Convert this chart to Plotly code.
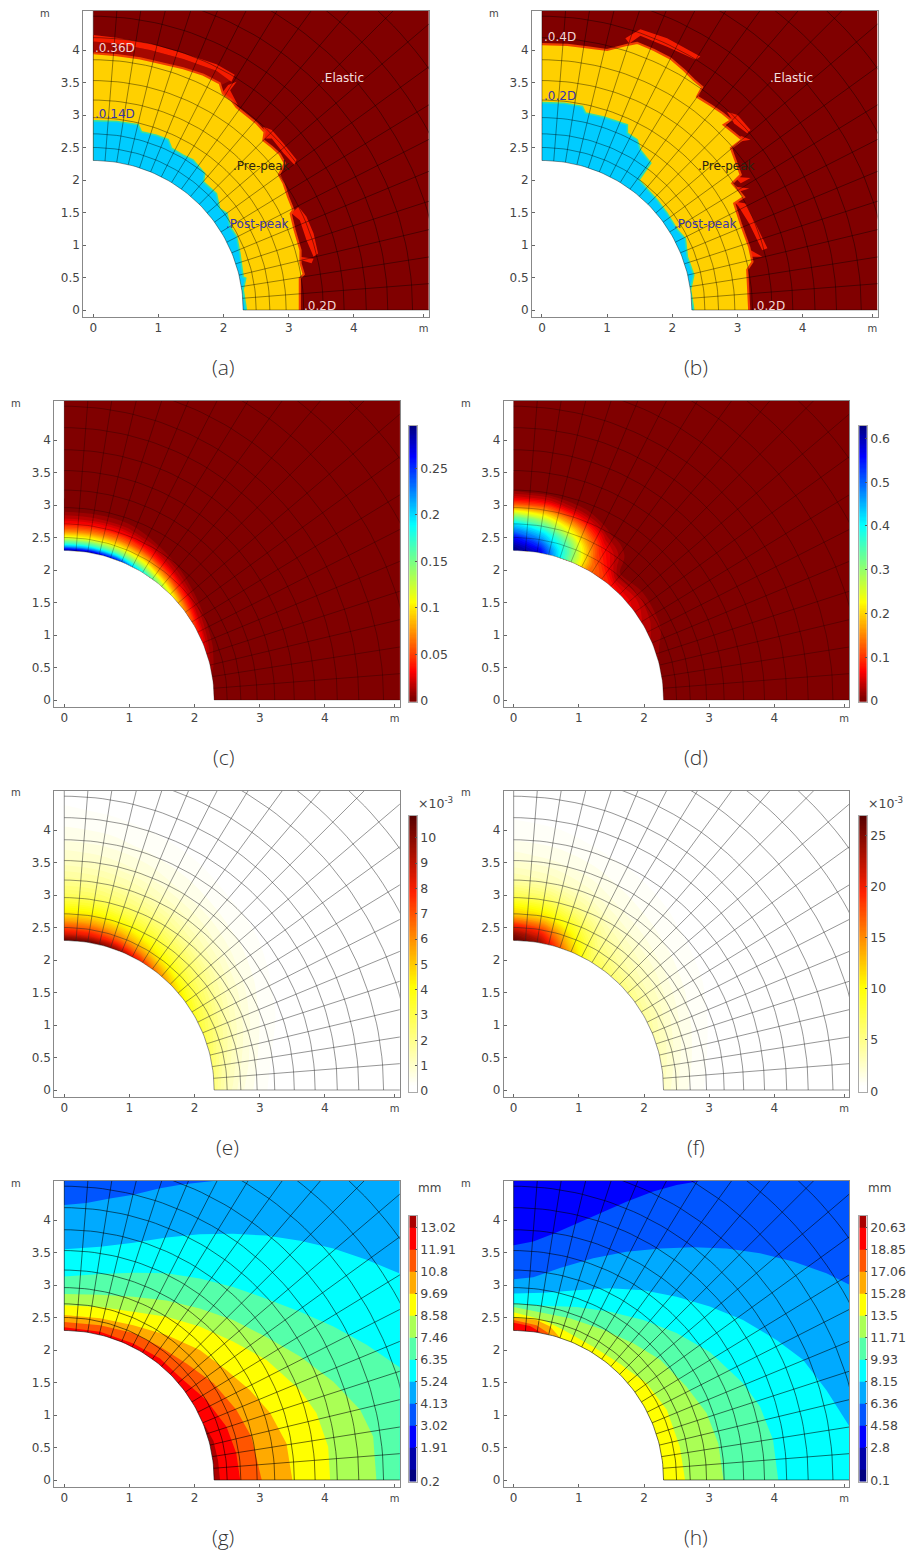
import numpy as np
import plotly.graph_objects as go

# ---------- data (all in metres / field units) ----------
HOLE_RADIUS = 2.3
MESH_RINGS = [2.3, 2.5, 2.71, 2.96, 3.23, 3.53, 3.85, 4.19, 4.52, 4.9, 5.35, 5.83, 6.35]
MESH_RAYS = [0, 4.5, 9, 13.5, 18, 22.5, 27, 31.5, 36, 40.5, 45, 49.5, 54, 58.5, 63, 67.5, 72, 76.5, 81, 85.5, 90]

# panel (a) zones
A_YELLOW_X = [0, .36, .72, 1.07, 1.38, 1.69, 1.94, 1.99, 2.12, 2.2, 2.35, 2.51, 2.63, 2.61, 2.74, 2.86, 2.94, 2.85, 2.92, 2.99, 3.07, 3.03, 3.09, 3.18, 3.18, 3.23, 3.17, 3.17]
A_YELLOW_Y = [3.95, 3.92, 3.87, 3.79, 3.72, 3.62, 3.49, 3.33, 3.23, 3.12, 3.0, 2.87, 2.74, 2.61, 2.51, 2.4, 2.26, 2.08, 1.95, 1.74, 1.54, 1.48, 1.23, .92, .72, .55, .49, 0]
A_CYAN_X = [0, .36, .69, .74, .97, 1.15, 1.2, 1.38, 1.53, 1.71, 1.69, 1.89, 1.94, 2.05, 2.1, 2.2, 2.25, 2.3, 2.34, 2.3, 2.35]
A_CYAN_Y = [2.91, 2.9, 2.85, 2.74, 2.69, 2.62, 2.49, 2.38, 2.31, 2.1, 1.97, 1.79, 1.56, 1.49, 1.28, 1.13, .87, .51, .49, .31, 0]
A_HALO_X = [0, .36, .87, 1.38, 1.89, 2.12, 1.94, 1.38, .72, 0]
A_HALO_Y = [4.13, 4.1, 4.0, 3.86, 3.68, 3.54, 3.45, 3.72, 3.87, 3.95]
A_FRINGES = [
    ([0, .36, .87, 1.38, 1.89, 2.17, 2.12, 1.89, 1.38, .87, .36, 0], [4.23, 4.19, 4.1, 3.95, 3.78, 3.62, 3.51, 3.68, 3.86, 4.0, 4.1, 4.13]),
    ([2.61, 2.74, 2.92, 3.12, 3.09, 2.92, 2.74, 2.63], [2.82, 2.77, 2.56, 2.31, 2.23, 2.41, 2.64, 2.64]),
    ([3.15, 3.27, 3.38, 3.45, 3.38, 3.27, 3.17, 3.04], [1.59, 1.44, 1.18, .87, .82, 1.08, 1.38, 1.49]),
    ([3.17, 3.38, 3.35, 3.18], [.82, .79, .72, .77]),
    ([1.97, 2.07, 2.2, 2.1, 2.22, 2.12], [3.33, 3.46, 3.51, 3.38, 3.15, 3.23]),
]
# panel (b) zones
B_YELLOW_X = [0, .39, .7, 1.0, 1.31, 1.46, 1.72, 1.97, 2.18, 2.33, 2.46, 2.38, 2.59, 2.77, 2.9, 2.79, 2.95, 3.07, 2.9, 2.97, 3.05, 2.92, 3.1, 2.95, 3.05, 3.18, 3.23, 3.15, 3.18]
B_YELLOW_Y = [4.09, 4.08, 4.04, 4.0, 4.08, 4.11, 4.0, 3.87, 3.69, 3.54, 3.43, 3.28, 3.15, 3.03, 2.92, 2.85, 2.72, 2.62, 2.49, 2.31, 2.08, 1.95, 1.74, 1.64, 1.33, .97, .74, .62, 0]
B_CYAN_X = [0, .34, .62, .67, .95, 1.31, 1.31, 1.46, 1.51, 1.67, 1.49, 1.77, 1.92, 2.08, 2.2, 2.23, 2.33, 2.28, 2.33]
B_CYAN_Y = [3.19, 3.18, 3.13, 3.03, 2.97, 2.85, 2.72, 2.62, 2.46, 2.26, 2.0, 1.69, 1.49, 1.23, 1.1, .82, .54, .31, 0]
B_FRINGES = [
    ([1.28, 1.51, 1.92, 2.43, 2.36, 1.92, 1.51, 1.34], [4.18, 4.32, 4.18, 3.9, 3.85, 4.05, 4.22, 4.1]),
    ([2.84, 3.0, 3.2, 3.15, 2.95], [3.05, 3.0, 2.77, 2.72, 2.87]),
    ([3.05, 3.2, 3.02], [2.68, 2.62, 2.59]),
    ([2.95, 3.2, 3.05], [2.05, 2.03, 1.95]),
    ([2.95, 3.18, 3.02], [1.9, 1.87, 1.82]),
    ([2.95, 3.13, 3.3, 3.46, 3.38, 3.18, 3.02], [1.67, 1.64, 1.28, .95, .92, 1.33, 1.59]),
    ([3.15, 3.38, 3.2], [.95, .82, .82]),
]
A_LABELS = [("0.36D", 0, 4.03, "#f3d6d6"), ("0.14D", 0, 3.02, "#3a35a8"), ("Elastic", 3.47, 3.57, "#f3dede"),
            ("Pre-peak", 2.12, 2.21, "#2c2410"), ("Post-peak", 2.0, 1.33, "#3a35a8"), ("0.2D", 3.2, .06, "#f3d6d6")]
B_LABELS = [("0.4D", 0, 4.2, "#f3d6d6"), ("0.2D", 0, 3.29, "#3a35a8"), ("Elastic", 3.47, 3.57, "#f3dede"),
            ("Pre-peak", 2.36, 2.21, "#2c2410"), ("Post-peak", 2.0, 1.33, "#3a35a8"), ("0.2D", 3.2, .06, "#f3d6d6")]

# field tables: one row per radius, one column per angle
FIELD_ANGLES = [0, 10, 20, 30, 40, 50, 60, 70, 80, 90]
NEAR_R = [2.3, 2.35, 2.4, 2.5, 2.6, 2.7, 2.8, 2.9, 3.0, 3.1, 3.2, 3.5, 7.0]
FAR_R = [2.3, 2.4, 2.5, 2.6, 2.7, 2.85, 3.0, 3.25, 3.55, 3.9, 4.3, 4.8, 7.0]
C_FIELD = [
    [0, .006, .025, .05, .09, .14, .195, .26, .29, .295],
    [0, .003, .015, .035, .07, .115, .16, .205, .225, .23],
    [0, .001, .008, .02, .05, .09, .13, .16, .175, .18],
    [0, 0, .002, .006, .02, .05, .085, .105, .112, .115],
    [0, 0, 0, .001, .005, .02, .045, .065, .07, .07],
    [0, 0, 0, 0, .001, .006, .02, .035, .038, .04],
    [0, 0, 0, 0, 0, .001, .006, .015, .017, .018],
    [0, 0, 0, 0, 0, 0, .001, .005, .006, .006],
    [0, 0, 0, 0, 0, 0, 0, .001, .001, .001],
    [0] * 10, [0] * 10, [0] * 10, [0] * 10,
]
D_FIELD = [
    [0, .005, .02, .04, .06, .08, .14, .36, .58, .63],
    [0, .004, .016, .035, .055, .07, .14, .35, .56, .62],
    [0, .003, .012, .03, .05, .05, .14, .35, .53, .60],
    [0, .001, .007, .02, .03, .02, .12, .33, .47, .56],
    [0, 0, .001, .005, .01, .005, .10, .29, .42, .49],
    [0, 0, 0, .001, .002, .002, .08, .23, .35, .43],
    [0, 0, 0, 0, 0, .001, .05, .18, .28, .34],
    [0, 0, 0, 0, 0, 0, .025, .12, .2, .24],
    [0, 0, 0, 0, 0, 0, .006, .06, .12, .13],
    [0, 0, 0, 0, 0, 0, .001, .02, .05, .06],
    [0, 0, 0, 0, 0, 0, 0, .005, .012, .015],
    [0] * 10, [0] * 10,
]
E_FIELD = [
    [2.2, 2.5, 3.0, 3.6, 4.6, 6.0, 8.0, 9.8, 10.6, 10.8],
    [1.7, 2.0, 2.5, 3.0, 3.8, 4.9, 6.2, 7.6, 8.3, 8.6],
    [1.3, 1.6, 2.1, 2.6, 3.2, 4.0, 5.0, 6.1, 6.9, 7.2],
    [1.0, 1.3, 1.7, 2.2, 2.7, 3.4, 4.2, 5.0, 5.6, 5.8],
    [.75, 1.0, 1.4, 1.8, 2.3, 2.9, 3.5, 4.1, 4.6, 4.7],
    [.5, .7, 1.0, 1.35, 1.8, 2.2, 2.7, 3.1, 3.5, 3.6],
    [.3, .45, .7, 1.0, 1.3, 1.6, 2.0, 2.3, 2.6, 2.7],
    [.12, .2, .35, .55, .75, 1.0, 1.2, 1.5, 1.7, 1.8],
    [.04, .08, .15, .25, .4, .5, .65, .85, 1.0, 1.1],
    [0, .02, .05, .1, .15, .22, .3, .4, .5, .55],
    [0, 0, 0, .02, .04, .07, .1, .14, .2, .25],
    [0, 0, 0, 0, 0, 0, .02, .03, .05, .06],
    [0] * 10,
]
F_FIELD = [
    [2.8, 3.2, 3.8, 4.5, 5.2, 6.0, 7.5, 15, 24, 26.5],
    [2.2, 2.6, 3.1, 3.8, 4.4, 5.2, 6.8, 13, 21, 24.5],
    [1.7, 2.1, 2.6, 3.2, 3.7, 4.4, 6.0, 11.5, 18, 21],
    [1.3, 1.6, 2.1, 2.7, 3.1, 3.8, 5.2, 9.8, 14.5, 16.5],
    [1.0, 1.3, 1.7, 2.2, 2.7, 3.3, 4.5, 8.4, 11.5, 12.5],
    [.65, .85, 1.2, 1.6, 2.1, 2.6, 3.5, 6.2, 8.8, 10],
    [.4, .55, .8, 1.15, 1.5, 1.9, 2.6, 4.3, 6.2, 7],
    [.15, .25, .4, .65, .9, 1.2, 1.6, 2.4, 3.2, 3.7],
    [.05, .1, .2, .3, .45, .65, .9, 1.3, 1.7, 2.0],
    [0, .03, .06, .12, .2, .28, .4, .55, .75, .9],
    [0, 0, 0, .03, .05, .08, .12, .18, .25, .35],
    [0, 0, 0, 0, 0, 0, .02, .04, .06, .08],
    [0] * 10,
]

# displacement contours: upper boundary of each band, outermost first
G_BLUE = ([0, .34, .70, 1.06, 1.47, 1.83, 2.29], [4.23, 4.26, 4.33, 4.39, 4.49, 4.55, 4.6])
G_BANDS = [
    ("#00ffff", [0, .55, 1.06, 1.57, 2.08, 2.59, 3.1, 3.62, 4.13, 4.64, 5.14, 5.2], [3.55, 3.59, 3.65, 3.73, 3.78, 3.79, 3.76, 3.68, 3.56, 3.39, 3.18, 3.15]),
    ("#55ffaa", [0, .55, 1.06, 1.57, 2.08, 2.59, 3.1, 3.62, 4.13, 4.64, 5.14, 5.2], [3.13, 3.17, 3.19, 3.18, 3.10, 2.97, 2.79, 2.59, 2.36, 2.08, 1.74, 1.7]),
    ("#aaff55", [0, .55, 1.06, 1.57, 2.08, 2.59, 3.1, 3.62, 4.13, 4.54, 4.74, 4.79], [2.86, 2.85, 2.82, 2.76, 2.64, 2.46, 2.2, 1.9, 1.51, 1.08, .67, 0]),
    ("#ffff00", [0, .55, 1.06, 1.57, 2.08, 2.59, 3.1, 3.62, 3.87, 4.05, 4.08], [2.69, 2.66, 2.59, 2.51, 2.36, 2.13, 1.85, 1.38, 1.03, .51, 0]),
    ("#ffaa00", [0, .55, 1.06, 1.57, 2.08, 2.49, 2.85, 3.16, 3.41, 3.5], [2.54, 2.49, 2.38, 2.23, 2.0, 1.69, 1.38, 1.03, .56, 0]),
    ("#ff5500", [0, .55, 1.06, 1.47, 1.88, 2.29, 2.64, 2.87, 3.03], [2.43, 2.38, 2.26, 2.05, 1.79, 1.49, 1.08, .67, 0]),
    ("#ff0000", [0, .55, 1.06, 1.47, 1.77, 2.18, 2.49, 2.64, 2.70], [2.35, 2.28, 2.1, 1.87, 1.59, 1.23, .82, .41, 0]),
    ("#aa0000", [2.39, 2.36, 2.29, 2.15], [0, .3, .6, .85]),
]
H_BLUE = ([0, .3, .61, .97, 1.32, 1.73, 2.14, 2.5, 2.86], [3.61, 3.67, 3.79, 3.95, 4.1, 4.28, 4.44, 4.54, 4.6])
H_BANDS = [
    ("#00aaff", [0, .3, .71, 1.22, 1.73, 2.25, 2.76, 3.27, 3.78, 4.29, 4.8, 5.2], [3.09, 3.12, 3.26, 3.41, 3.51, 3.56, 3.58, 3.56, 3.49, 3.36, 3.18, 2.98]),
    ("#00ffff", [0, .46, .97, 1.48, 1.99, 2.5, 3.01, 3.52, 4.04, 4.44, 4.8, 5.06, 5.2], [2.87, 2.88, 2.92, 2.95, 2.92, 2.82, 2.67, 2.46, 2.15, 1.85, 1.38, .97, .75]),
    ("#55ffaa", [0, .46, .97, 1.48, 1.99, 2.5, 3.01, 3.52, 3.78, 3.98, 4.06], [2.72, 2.68, 2.66, 2.59, 2.46, 2.26, 1.97, 1.49, 1.13, .62, 0]),
    ("#aaff55", [0, .46, .86, 1.38, 1.84, 2.25, 2.65, 2.96, 3.14, 3.22], [2.66, 2.57, 2.49, 2.31, 2.1, 1.85, 1.44, 1.03, .56, 0]),
    ("#ffff00", [0, .46, .76, 1.22, 1.63, 2.04, 2.35, 2.55, 2.63], [2.58, 2.46, 2.31, 2.05, 1.79, 1.49, 1.08, .51, 0]),
    ("#ffaa00", [0, .35, .56, .76], [2.5, 2.46, 2.36, 2.13]),
    ("#ff5500", [0, .35, .53], [2.46, 2.38, 2.26]),
    ("#ff0000", [0, .25, .4], [2.42, 2.37, 2.28]),
]

# colour bars
C_TICKS = [0, .05, .1, .15, .2, .25]
D_TICKS = [0, .1, .2, .3, .4, .5, .6]
E_TICKS = [0, 1, 2, 3, 4, 5, 6, 7, 8, 9, 10]
F_TICKS = [0, 5, 10, 15, 20, 25]
G_EDGES = [.18, .8, 1.91, 3.02, 4.13, 5.24, 6.35, 7.46, 8.58, 9.69, 10.8, 11.91, 13.02, 13.6]
G_TICKS = [.2, 1.91, 3.02, 4.13, 5.24, 6.35, 7.46, 8.58, 9.69, 10.8, 11.91, 13.02]
H_EDGES = [.02, 1.02, 2.8, 4.58, 6.36, 8.15, 9.93, 11.71, 13.5, 15.28, 17.06, 18.85, 20.63, 21.57]
H_TICKS = [.1, 2.8, 4.58, 6.36, 8.15, 9.93, 11.71, 13.5, 15.28, 17.06, 18.85, 20.63]
STEP_COLORS = ["#000080", "#0000aa", "#0000ff", "#0055ff", "#00aaff", "#00ffff", "#55ffaa", "#aaff55", "#ffff00", "#ffaa00", "#ff5500", "#ff0000", "#aa0000"]
CAPTIONS = ["(a)", "(b)", "(c)", "(d)", "(e)", "(f)", "(g)", "(h)"]
X_TICKS = [0, 1, 2, 3, 4, 5.07]
X_TICK_TEXT = ["0", "1", "2", "3", "4", "<span style='font-size:10px'>m</span>"]
Y_TICKS = [0, .5, 1, 1.5, 2, 2.5, 3, 3.5, 4]
Y_TICK_TEXT = ["0", "0.5", "1", "1.5", "2", "2.5", "3", "3.5", "4"]

# ---------- styles and layout ----------
W, H = 909, 1553
FONT = "DejaVu Sans"
DARK = "#800000"
JET_REV = [[0, "#800000"], [.012, "#800000"], [.11, "#ff0000"], [.36, "#ffff00"], [.5, "#7fff7f"], [.64, "#00ffff"], [.89, "#0000ff"], [1, "#00007f"]]
HEAT = [[0, "#ffffff"], [.02, "#ffffff"], [.38, "#ffff00"], [.72, "#ff2000"], [1, "#560000"]]
LEFT = {0: 83.3, 1: 532.0, 2: 54.3, 3: 503.7, 4: 54.3, 5: 503.7, 6: 54.3, 7: 503.7}
TOPS = {0: 11, 1: 11, 2: 401, 3: 401, 4: 791, 5: 791, 6: 1181, 7: 1181}
PW, PH = 345.5, 305.7
CAP_POS = [(223, 367), (696, 367), (223, 757), (696, 757), (227, 1147), (696, 1147), (223, 1537), (696, 1537)]
XRANGE = [-.153, 5.149]
YRANGE = [-.103, 4.6]

fig = go.Figure()
layout = dict(width=W, height=H, margin=dict(l=0, r=0, t=0, b=0, autoexpand=False), paper_bgcolor="white", plot_bgcolor="white",
              showlegend=False, annotations=[], shapes=[], hovermode=False)


def note(text, px, py, size=12, color="#444", anchor="center", family=FONT, weight=None):
    f = dict(family=family, size=size, color=color)
    if weight:
        f["weight"] = weight
    layout["annotations"].append(dict(text=text, x=px / W, y=1 - py / H, xref="paper", yref="paper", showarrow=False,
                                      xanchor=anchor, yanchor="middle", font=f))


def set_axes(n, l, t, w, h, xr, yr, xa=None, ya=None):
    s = "" if n == 1 else str(n)
    xa = xa or {}
    ya = ya or {}
    layout["xaxis" + s] = dict(domain=[l / W, (l + w) / W], range=xr, anchor="y" + s, showgrid=False, zeroline=False, **xa)
    layout["yaxis" + s] = dict(domain=[1 - (t + h) / H, 1 - t / H], range=yr, anchor="x" + s, showgrid=False, zeroline=False, **ya)


def fill_poly(n, xs, ys, color, edge=None, edge_w=1.5):
    s = "" if n == 1 else str(n)
    fig.add_trace(go.Scatter(x=xs, y=ys, mode="lines", fill="toself", fillcolor=color, line=dict(width=0, color=color),
                             xaxis="x" + s, yaxis="y" + s, hoverinfo="skip"))
    if edge:
        k = len(xs) - 1
        fig.add_trace(go.Scatter(x=xs[:k], y=ys[:k], mode="lines", line=dict(width=edge_w, color=edge),
                                 xaxis="x" + s, yaxis="y" + s, hoverinfo="skip"))


def band(n, xs, ys, color, edge=None, edge_w=1.5):
    xs, ys = list(xs), list(ys)
    if ys[-1] > 0 and xs[-1] >= 5:
        xs.append(xs[-1]); ys.append(0)
    xs.append(0); ys.append(0)
    fill_poly(n, xs, ys, color, edge, edge_w)


def background(n, color):
    s = "" if n == 1 else str(n)
    layout["shapes"].append(dict(type="rect", xref="x" + s, yref="y" + s, x0=0, y0=0, x1=XRANGE[1], y1=YRANGE[1],
                                 fillcolor=color, line=dict(width=0), layer="below"))


def hole_and_mesh(n, mesh_color, mesh_w=1.0):
    s = "" if n == 1 else str(n)
    th = np.radians(np.arange(0, 90.5, 1.5))
    hx = list(HOLE_RADIUS * np.cos(th)) + [-.06, -.06, HOLE_RADIUS]
    hy = list(HOLE_RADIUS * np.sin(th)) + [HOLE_RADIUS, -.06, -.06]
    fig.add_trace(go.Scatter(x=hx, y=hy, mode="lines", fill="toself", fillcolor="white", line=dict(width=0, color="white"),
                             xaxis="x" + s, yaxis="y" + s, hoverinfo="skip"))
    mx, my = [], []
    for r in MESH_RINGS:
        mx += list(r * np.cos(th)) + [None]
        my += list(r * np.sin(th)) + [None]
    for a in MESH_RAYS:
        c, sn = np.cos(np.radians(a)), np.sin(np.radians(a))
        mx += [HOLE_RADIUS * c, 7.5 * c, None]
        my += [HOLE_RADIUS * sn, 7.5 * sn, None]
    fig.add_trace(go.Scatter(x=mx, y=my, mode="lines", line=dict(width=mesh_w, color=mesh_color),
                             xaxis="x" + s, yaxis="y" + s, hoverinfo="skip"))


def field(n, radii, table, colorscale, zmax, levels):
    s = "" if n == 1 else str(n)
    rr = np.array(radii)[:, None]
    th = np.radians(np.array(FIELD_ANGLES))[None, :]
    X, Y = rr * np.cos(th), rr * np.sin(th)
    cid = "carpet" + str(n)
    hidden = dict(showgrid=False, showline=False, showticklabels="none", startline=False, endline=False,
                  minorgridcount=0, smoothing=0)
    fig.add_trace(go.Carpet(a=radii, b=FIELD_ANGLES, x=X.T.tolist(), y=Y.T.tolist(), carpet=cid, aaxis=hidden,
                            baxis=dict(hidden, smoothing=1), xaxis="x" + s, yaxis="y" + s))
    fig.add_trace(go.Contourcarpet(a=radii, b=FIELD_ANGLES, z=np.array(table, float).T.tolist(), carpet=cid,
                                   autocontour=False, zauto=False, zmin=0, zmax=zmax,
                                   contours=dict(start=0, end=zmax, size=zmax / levels, coloring="fill", showlines=False),
                                   line=dict(width=0), colorscale=colorscale, showscale=False,
                                   xaxis="x" + s, yaxis="y" + s))


def colorbar_axes(n, col, top, bottom, yr, ticks, labels=None):
    l = 409.3 if col == 0 else 859.3
    set_axes(n, l, top, 7.4, bottom - top, [0, 1], yr,
             xa=dict(visible=True, showticklabels=False, ticks="", showline=True, linecolor="#aaa", mirror=True),
             ya=dict(side="right", tickvals=ticks, ticktext=labels or [str(t) for t in ticks], ticks="inside", ticklen=2,
                     tickcolor="#555", showline=True, linecolor="#aaa", mirror=True,
                     tickfont=dict(family=FONT, size=12.5, color="#444")))


def continuous_bar(n, col, top, bottom, yr, ticks, colorscale, zmax, labels=None):
    s = str(n)
    ramp = np.linspace(max(yr[0], 0), yr[1], 220)
    fig.add_trace(go.Heatmap(x=[0, 1], y=ramp.tolist(), z=[[v, v] for v in ramp], colorscale=colorscale, zmin=0, zmax=zmax,
                             showscale=False, xaxis="x" + s, yaxis="y" + s, hoverinfo="skip", zsmooth=False))
    colorbar_axes(n, col, top, bottom, yr, ticks, labels)


def step_bar(n, col, top, bottom, edges, ticks):
    s = str(n)
    idx = list(range(len(STEP_COLORS)))
    cs = []
    for i, c in enumerate(STEP_COLORS):
        cs += [[i / 13, c], [(i + 1) / 13, c]]
    fig.add_trace(go.Heatmap(x=[0, 1], y=edges, z=[[i] for i in idx], colorscale=cs, zmin=-.5, zmax=12.5,
                             showscale=False, xaxis="x" + s, yaxis="y" + s, hoverinfo="skip"))
    colorbar_axes(n, col, top, bottom, [edges[0], edges[-1]], ticks)


# ---------- main axes ----------
main_x = dict(visible=True, showline=True, linecolor="#888", mirror=True, tickvals=X_TICKS, ticktext=X_TICK_TEXT, ticks="inside",
              ticklen=3, tickcolor="#666", tickfont=dict(family=FONT, size=12, color="#444"))
main_y = dict(visible=True, showline=True, linecolor="#888", mirror=True, tickvals=Y_TICKS, ticktext=Y_TICK_TEXT, ticks="inside",
              ticklen=3, tickcolor="#666", tickfont=dict(family=FONT, size=12, color="#444"))
for i in range(8):
    set_axes(i + 1, LEFT[i], TOPS[i], PW, PH, XRANGE, YRANGE, main_x, main_y)
    note("m", LEFT[i] - 38, TOPS[i] + 2, size=10)
    note(CAPTIONS[i], CAP_POS[i][0], CAP_POS[i][1], size=21, color="#333", family="Open Sans", weight=300)


def zone_panel(n, yellow, cyan, fringes, labels, halo=None):
    background(n, DARK)
    if halo:
        fill_poly(n, halo[0], halo[1], "#a50800")
    for fx, fy in fringes:
        fill_poly(n, list(fx) + [fx[0]], list(fy) + [fy[0]], "#f51c00")
    band(n, yellow[0], yellow[1], "#ffd000", edge="#f04000", edge_w=2.2)
    band(n, cyan[0], cyan[1], "#00ccff", edge="#30e0a8", edge_w=1.6)
    hole_and_mesh(n, "rgba(0,0,0,0.45)", .9)
    s = "" if n == 1 else str(n)
    for text, x, y, col in labels:
        layout["annotations"].append(dict(text="." + text, x=x, y=y, xref="x" + s, yref="y" + s, showarrow=False, xanchor="left",
                                          yanchor="middle", font=dict(family=FONT, size=12, color=col)))


zone_panel(1, (A_YELLOW_X, A_YELLOW_Y), (A_CYAN_X, A_CYAN_Y), A_FRINGES, A_LABELS, (A_HALO_X, A_HALO_Y))
zone_panel(2, (B_YELLOW_X, B_YELLOW_Y), (B_CYAN_X, B_CYAN_Y), B_FRINGES, B_LABELS)

background(3, DARK)
field(3, NEAR_R, C_FIELD, JET_REV, .2957, 45)
hole_and_mesh(3, "rgba(0,0,0,0.3)", .9)
background(4, DARK)
field(4, NEAR_R, D_FIELD, JET_REV, .629, 45)
hole_and_mesh(4, "rgba(0,0,0,0.3)", .9)
field(5, FAR_R, E_FIELD, HEAT, 10.87, 50)
hole_and_mesh(5, "rgba(40,40,40,0.55)", .9)
field(6, FAR_R, F_FIELD, HEAT, 26.9, 50)
hole_and_mesh(6, "rgba(40,40,40,0.55)", .9)

for n, bg, blue, bands in [(7, "#00aaff", G_BLUE, G_BANDS), (8, "#0055ff", H_BLUE, H_BANDS)]:
    background(n, bg)
    top_color = "#0055ff" if n == 7 else "#0000ff"
    fill_poly(n, list(blue[0]) + [0], list(blue[1]) + [YRANGE[1]], top_color)
    for color, xs, ys in bands:
        band(n, xs, ys, color)
    hole_and_mesh(n, "rgba(0,0,0,0.7)", .8)

# ---------- colour bars ----------
continuous_bar(9, 0, 425.7, 701.7, [-.0007, .2957], C_TICKS, JET_REV, .2957)
continuous_bar(10, 1, 425.7, 701.7, [-.0015, .629], D_TICKS, JET_REV, .629)
continuous_bar(11, 0, 815.7, 1091.7, [-.03, 10.87], E_TICKS, HEAT, 10.87)
continuous_bar(12, 1, 815.7, 1091.7, [-.05, 26.9], F_TICKS, HEAT, 26.9)
step_bar(13, 0, 1215.7, 1481.7, G_EDGES, G_TICKS)
step_bar(14, 1, 1215.7, 1481.7, H_EDGES, H_TICKS)
note("×10<sup>-3</sup>", 416, 803, size=12.5, anchor="left")
note("×10<sup>-3</sup>", 866, 803, size=12.5, anchor="left")
note("mm", 416, 1188, size=12, anchor="left")
note("mm", 866, 1188, size=12, anchor="left")

fig.update_layout(**layout)
fig.write_html("out.html", post_script="document.body.style.margin='0';", config={"displayModeBar": False})
